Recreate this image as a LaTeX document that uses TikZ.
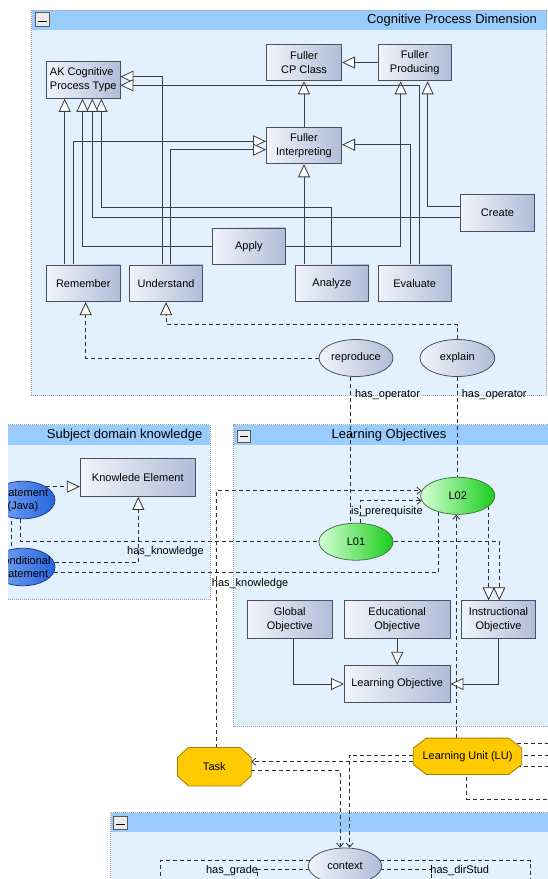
\documentclass[tikz,border=0pt]{standalone}
\usepackage{fontspec}
\setmainfont{Liberation Sans}
\usetikzlibrary{arrows.meta,shapes.geometric,calc}
\definecolor{panelbg}{RGB}{226,241,253}
\definecolor{titlebg}{RGB}{153,204,252}
\definecolor{panelbd}{RGB}{150,165,185}
\definecolor{boxL}{RGB}{242,244,251}
\definecolor{boxR}{RGB}{176,188,216}
\definecolor{boxbd}{RGB}{72,80,98}
\definecolor{linec}{RGB}{58,62,70}
\definecolor{dashc}{RGB}{45,45,50}
\definecolor{greenL}{RGB}{215,255,215}
\definecolor{greenR}{RGB}{25,205,25}
\definecolor{greenbd}{RGB}{70,120,70}
\definecolor{gold}{RGB}{255,203,0}
\definecolor{goldbd}{RGB}{165,125,0}
\definecolor{blueL}{RGB}{125,170,245}
\definecolor{blueR}{RGB}{40,100,220}
\definecolor{bluebd}{RGB}{30,60,140}
\pgfdeclarelayer{bg}
\pgfdeclarelayer{edges}
\pgfdeclarelayer{shapes}
\pgfsetlayers{bg,edges,shapes,main}
\newcommand\octshape[3]{\path[octpath] ([xshift=#2]#1.north west) -- ([xshift=-#2]#1.north east) -- ([yshift=-#3]#1.north east) -- ([yshift=#3]#1.south east) -- ([xshift=-#2]#1.south east) -- ([xshift=#2]#1.south west) -- ([yshift=#3]#1.south west) -- ([yshift=-#3]#1.north west) -- cycle;}
\begin{document}
\begin{tikzpicture}[x=1pt,y=-1pt,
  txt/.style={font=\fontsize{11}{13.7}\selectfont, align=center},
  cls/.style={rectangle, draw=boxbd, line width=0.8pt, left color=boxL, right color=boxR, inner sep=0pt, minimum width=73.5pt, minimum height=36.7pt, txt},
  opel/.style={ellipse, draw=boxbd, line width=0.8pt, left color=boxL, right color=boxR, inner sep=0pt, minimum width=74pt, minimum height=37pt},
  goal/.style={ellipse, draw=greenbd, line width=0.8pt, left color=greenL, right color=greenR, inner sep=0pt, minimum width=74.2pt, minimum height=37pt},
  bluel/.style={ellipse, draw=bluebd, line width=0.8pt, left color=blueL, right color=blueR, inner sep=0pt, minimum width=64pt, minimum height=37.5pt},
  octn/.style={rectangle, inner sep=0pt, txt},
  octpath/.style={fill=gold, draw=goldbd, line width=0.8pt},
  lab/.style={font=\fontsize{11}{13}\selectfont, inner sep=0pt, text=black, align=center},
  gen/.style={draw=linec, line width=0.8pt, -{Triangle[fill=white, length=13pt, width=12pt]}},
  dgen/.style={gen, draw=dashc, dash pattern=on 4pt off 3pt},
  assoc/.style={draw=dashc, line width=0.8pt, dash pattern=on 4pt off 3pt, -{Straight Barb[length=4pt,width=7pt]}},
  dline/.style={draw=dashc, line width=0.8pt, dash pattern=on 4pt off 3pt},
  panel/.style={fill=panelbg},
  pborder/.style={draw=panelbd, line width=0.6pt, dash pattern=on 1pt off 1pt},
  title/.style={font=\fontsize{13}{15}\selectfont, inner sep=0pt},
  minusbox/.style={draw=black!65, fill=black!8, line width=0.6pt, inner sep=0pt}
]
\useasboundingbox (0,0) rectangle (548,879);

% ---------- panels ----------
\begin{pgfonlayer}{bg}
\fill[white] (0,0) rectangle (548,879);
\path[panel] (31.5,10) rectangle (546.5,395);
\path[fill=titlebg] (31.5,10) rectangle (546.5,30);
\path[pborder] (31.5,10) rectangle (546.5,395);

\path[panel] (8.3,424.5) rectangle (210,599.5);
\path[fill=titlebg] (8.3,424.5) rectangle (210,445);
\path[pborder] (8.3,424.5) -- (210,424.5) -- (210,599.5) -- (8.3,599.5);

\path[panel] (233.6,424.5) rectangle (560,726.7);
\path[fill=titlebg] (233.6,424.5) rectangle (560,445);
\path[pborder] (560,424.5) -- (233.6,424.5) -- (233.6,726.7) -- (560,726.7);

\path[panel] (110.5,812.5) rectangle (560,895);
\path[fill=titlebg] (110.5,812.5) rectangle (560,832);
\path[pborder] (560,812.5) -- (110.5,812.5) -- (110.5,895);
\end{pgfonlayer}

% ---------- panel titles and minus boxes ----------
\node[title, anchor=east] (t1) at (537,20.5) {Cognitive Process Dimension};
\node[title, anchor=east] (t2) at (202.5,435.5) {Subject domain knowledge};
\node[title] (t3) at (389,435.5) {Learning Objectives};
\node[minusbox, minimum width=14pt, minimum height=14pt] (m1) at (42.5,19.7) {};
\node[minusbox, minimum width=12.5pt, minimum height=12pt] (m2) at (244,435.8) {};
\node[minusbox, minimum width=14pt, minimum height=13.3pt] (m3) at (120.4,822.7) {};
\draw[line width=1.2pt] ([xshift=3pt,yshift=-1.5pt]m1.west) -- ([xshift=-3pt,yshift=-1.5pt]m1.east);
\draw[line width=1.2pt] ([xshift=2.5pt,yshift=-1pt]m2.west) -- ([xshift=-2.5pt,yshift=-1pt]m2.east);
\draw[line width=1.2pt] ([xshift=3pt,yshift=-1.5pt]m3.west) -- ([xshift=-3pt,yshift=-1.5pt]m3.east);

% ---------- Cognitive Process Dimension ----------
\node[cls, align=left] (AK) at (83.25,80) {AK Cognitive\\Process Type};
\node[cls, minimum width=75.2pt] (CP) at (304,62.5) {Fuller\\CP Class};
\node[cls] (Prod) at (414.7,62.5) {Fuller\\Producing};
\node[cls, minimum width=75.2pt] (Interp) at (304,145.5) {Fuller\\Interpreting};
\node[cls] (Create) at (497.5,212.7) {Create};
\node[cls] (Apply) at (248.9,246.3) {Apply};
\node[cls] (Rem) at (83.25,283.3) {Remember};
\node[cls] (Und) at (166.1,283.3) {Understand};
\node[cls] (Ana) at (332,283.3) {Analyze};
\node[cls] (Eval) at (414.7,283.3) {Evaluate};
\node[opel, label={[lab]center:reproduce}] (repr) at (356,358) {};
\node[opel, minimum width=74.8pt, label={[lab]center:explain}] (expl) at (457.4,358) {};

% ---------- Subject domain knowledge ----------
\node[cls, minimum width=115pt, minimum height=38pt] (KE) at (137.8,477.5) {Knowlede Element};
\begin{scope}
\clip (8.3,420) rectangle (215,600);
\node[bluel, label={[lab]center:{Statement\\(Java)}}] (Stmt) at (23,500) {};
\node[bluel, label={[lab]center:{Conditional\\Statement}}] (Cond) at (23,567) {};
\end{scope}

% ---------- Learning Objectives ----------
\node[goal, label={[lab]center:L02}] (LO2) at (457.7,495.8) {};
\node[goal, label={[lab]center:L01}] (LO1) at (356,541.7) {};
\node[cls, minimum width=85.6pt, minimum height=37.6pt] (Glob) at (289.7,619.5) {Global\\Objective};
\node[cls, minimum width=105.6pt, minimum height=37.6pt] (Edu) at (397.2,619.5) {Educational\\Objective};
\node[cls, minimum width=74.5pt, minimum height=37.6pt] (Instr) at (498.45,619.5) {Instructional\\Objective};
\node[cls, minimum width=105.6pt, minimum height=37.4pt] (LObj) at (397.2,684) {Learning Objective};

% ---------- Task, Learning Unit, context ----------
\node[octn, minimum width=73.4pt, minimum height=38pt] (Task) at (214.3,766.7) {Task};
\node[octn, minimum width=108pt, minimum height=36pt] (LU) at (467.5,756.3) {Learning Unit (LU)};
\node[opel, minimum width=73.5pt, minimum height=36pt, label={[lab]center:context}] (ctx) at (345,866) {};

\coordinate (r1) at (560,743.3);
\coordinate (r2) at (560,755);
\coordinate (r3) at (560,766.7);
\coordinate (r4) at (560,799);
\coordinate (g1) at (160,895);
\coordinate (g2) at (257,895);
\coordinate (d1) at (530.4,895);
\coordinate (d2) at (431.8,895);

\begin{pgfonlayer}{shapes}
\octshape{Task}{11pt}{10pt}
\octshape{LU}{13pt}{10pt}
\end{pgfonlayer}

% ---------- connectors ----------
\begin{pgfonlayer}{edges}
\draw[gen] (Prod.west) -- (CP.east);
\draw[gen] (Interp.north) -- (CP.south);
\draw[gen] (Ana.north -| Interp.south) -- (Interp.south);
\draw[gen] ([xshift=-18.55pt]Rem.north) -- ([xshift=-18.55pt]AK.south);
\draw[gen] ([xshift=-9.45pt]Rem.north) |- ([yshift=4.2pt]Interp.west);
\draw[gen] ([xshift=-4.2pt]Und.north) |- ([yshift=3.3pt]AK.east);
\draw[gen] ([xshift=4.5pt]Und.north) |- ([yshift=-4.2pt]Interp.west);
\draw[gen] (Apply.west) -| ([xshift=-0.75pt]AK.south);
\draw[gen] (Apply.east) -| ([xshift=-14pt]Prod.south);
\draw[gen] ([xshift=-1pt]Ana.north) -- ++(0,-57.3) -| ([xshift=18.15pt]AK.south);
\draw[gen] ([yshift=-5pt]Create.west) -| ([xshift=9.05pt]AK.south);
\draw[gen] ([yshift=6pt]Create.west) -| ([xshift=12.9pt]Prod.south);
\draw[gen] ([xshift=-3.9pt]Eval.north) |- ([yshift=0.8pt]Interp.east);
\draw[gen] ([xshift=4.2pt]Eval.north) |- ([yshift=-5.3pt]AK.east);

\draw[dgen] (repr.west) -| ([xshift=2.45pt]Rem.south);
\draw[dgen] (expl.north) -- ++(0,-14.3) -| (Und.south);

\draw[dline] ([xshift=-5.3pt]repr.south) -- ([xshift=-5.3pt]repr.south |- LO1.north)
  node[lab, pos=0.125, anchor=west, xshift=4pt] {has\_operator};
\draw[dline] (expl.south) -- (expl.south |- LO2.north)
  node[lab, pos=0.18, anchor=west, xshift=4pt] {has\_operator};

\draw[dgen] (Stmt.30) -- (Stmt.30 -| KE.west);
\draw[dgen] (Cond.8) -| ([xshift=0.5pt]KE.south)
  node[lab, pos=0.582, anchor=west, xshift=-11.5pt] {has\_knowledge};
\draw[dline] ([xshift=-11.3pt]Stmt.center) -- ([xshift=-11.3pt]Cond.center);
\draw[dline] ([xshift=-2.3pt]Stmt.south) |- (LO1.west);
\draw[dline] (Cond.350) -| (LO2.221);

\draw[assoc] ([xshift=1.7pt]Task.north) |- (LO2.172)
  node[lab, pos=0.319, anchor=west, xshift=-4.5pt] {has\_knowledge};
\draw[assoc] ([xshift=4.7pt]LO1.north) |- (LO2.188)
  node[lab, pos=0.5, anchor=north west, xshift=-10pt, yshift=-5pt] {is\_prerequisite};
\draw[dgen] (LO1.east) -| ([xshift=0.85pt]Instr.north);
\draw[dgen] (LO2.341) -- (LO2.341 |- Instr.north);

\draw[gen] ([xshift=4pt]Glob.south) |- (LObj.west);
\draw[gen] (Edu.south) -- (LObj.north);
\draw[gen] (Instr.south) |- (LObj.east);

\draw[assoc] ([xshift=-11.2pt]LU.north) -- ([xshift=-11.2pt]LU.north |- LO2.south);
\draw[assoc] ([yshift=-5.4pt]LU.west) -- ([yshift=-5.4pt]LU.west -| Task.east);
\draw[assoc] ([yshift=1.3pt]LU.west) -| ([xshift=4.7pt]ctx.north);
\draw[assoc] ([yshift=-4pt]Task.east) -| ([xshift=-5pt]ctx.north);
\draw[dline] (LU.center |- r1) -- (r1);
\draw[dline] (LU.center |- r2) -- (r2);
\draw[dline] (LU.center |- r3) -- (r3);
\draw[dline] ([xshift=-0.7pt]LU.center) |- (r4);

\draw[dline] ([yshift=5.3pt]ctx.center) -| (g1);
\draw[dline] ([yshift=-3.3pt]ctx.center) -| (g2)
  node[lab, pos=0.5, anchor=east, xshift=1.5pt, yshift=-1.7pt] {has\_grade};
\draw[dline] ([yshift=5.3pt]ctx.center) -| (d1);
\draw[dline] ([yshift=-3.3pt]ctx.center) -| (d2)
  node[lab, pos=0.5, anchor=west, xshift=-1.8pt, yshift=-1.7pt] {has\_dirStud};
\end{pgfonlayer}
\end{tikzpicture}
\end{document}
